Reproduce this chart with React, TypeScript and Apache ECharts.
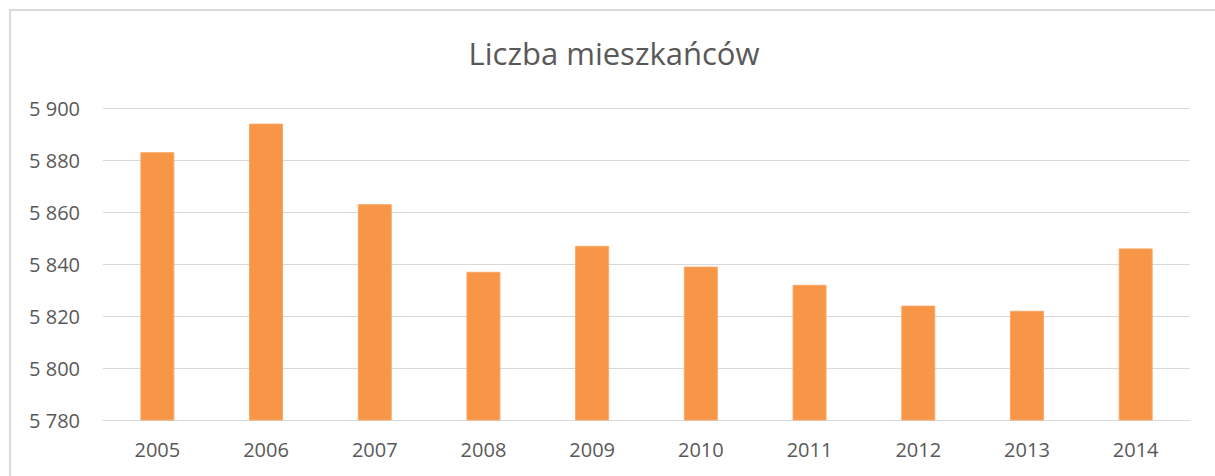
import React, { useEffect, useRef } from "react";
import * as echarts from "echarts";

const title = "Liczba mieszkańców";
const years = ["2005", "2006", "2007", "2008", "2009", "2010", "2011", "2012", "2013", "2014"];
const residents = [5883, 5894, 5863, 5837, 5847, 5839, 5832, 5824, 5822, 5846];
const yMin = 5780;
const yMax = 5900;
const yStep = 20;

const fmt = (v: number) => String(v).replace(/\B(?=(\d{3})+(?!\d))/g, " ");

export default function App() {
  const ref = useRef<HTMLDivElement>(null);
  useEffect(() => {
    if (!ref.current) return;
    const chart = echarts.init(ref.current, null, { renderer: "svg" });
    chart.setOption({
      animation: false,
      backgroundColor: "#ffffff",
      textStyle: { fontFamily: "Open Sans" },
      title: {
        text: title,
        left: 609,
        textAlign: "center",
        top: 32,
        textStyle: { fontFamily: "Open Sans", fontSize: 31, fontWeight: "normal", color: "#595959" },
      },
      graphic: [
        {
          type: "rect",
          shape: { x: 10, y: 10, width: 1400, height: 700 },
          style: { fill: "none", stroke: "#d9d9d9", lineWidth: 2 },
          silent: true,
          z: 100,
        },
      ],
      grid: { left: 103, right: 25, top: 108, bottom: 56, containLabel: false, outerBoundsMode: "none" },
      xAxis: {
        type: "category",
        data: years,
        axisLine: { show: true, lineStyle: { color: "#d9d9d9", width: 1 } },
        axisTick: { show: false },
        axisLabel: { color: "#595959", fontSize: 20, fontFamily: "Open Sans", margin: 19 },
      },
      yAxis: {
        type: "value",
        min: yMin,
        max: yMax,
        interval: yStep,
        axisLine: { show: false },
        axisTick: { show: false },
        splitLine: { lineStyle: { color: "#d9d9d9", width: 1 } },
        axisLabel: { color: "#595959", fontSize: 20, fontFamily: "Open Sans", margin: 23, formatter: (v: number) => fmt(v) },
      },
      series: [
        {
          type: "bar",
          data: residents,
          barWidth: 34,
          itemStyle: { color: "#F79646", borderColor: "#f8a868", borderWidth: 1 },
        },
      ],
    });
    return () => chart.dispose();
  }, []);
  return <div ref={ref} style={{ position: "fixed", left: 0, top: 0, width: 1215, height: 476 }} />;
}
